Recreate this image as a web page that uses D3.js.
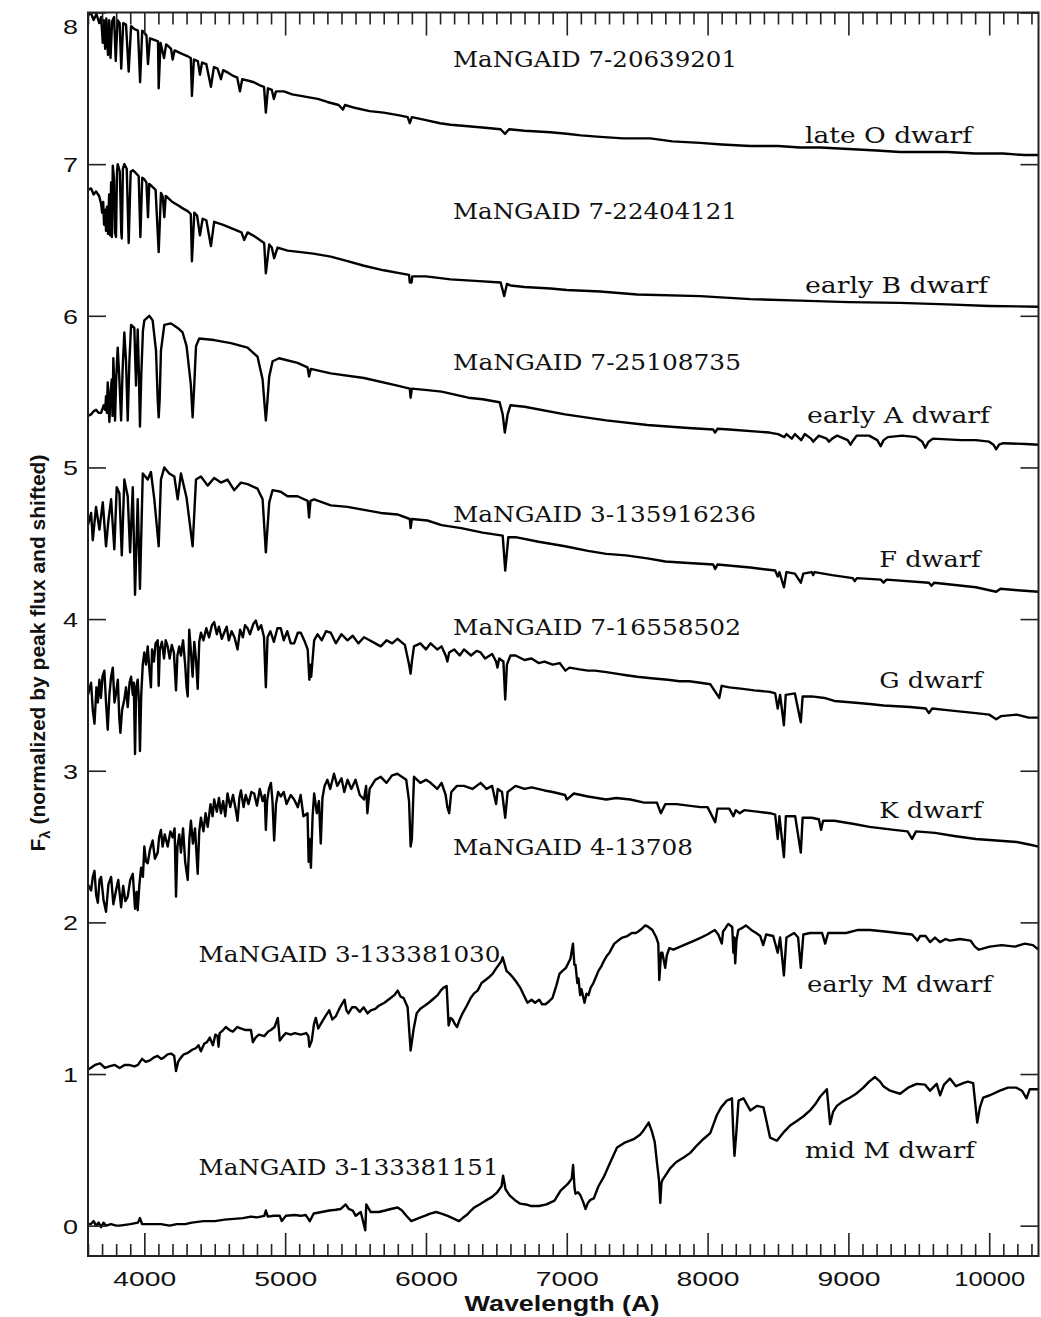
<!DOCTYPE html>
<html><head><meta charset="utf-8">
<script src="https://cdn.jsdelivr.net/npm/d3@7/dist/d3.min.js"></script>
<style>body{margin:0;background:#fff}</style>
</head><body>
<svg id="chart" width="1041" height="1317"></svg>
<script>
// ---------------- data: [wavelength (A), normalized + shifted flux] ----------------
const specLateO = [[3600,7.98],[3619,8.00],[3640,7.95],[3660,7.99],[3680,7.93],[3693,7.97],[3705,7.80],[3712,7.95],[3722,7.76],[3730,7.96],[3742,7.72],[3750,7.95],[3760,7.70],[3771,7.94],[3785,7.97],[3797,7.68],[3810,7.95],[3825,7.93],[3836,7.63],[3850,7.93],[3870,7.92],[3889,7.61],[3906,7.91],[3930,7.89],[3955,7.88],[3970,7.54],[3985,7.88],[3998,7.87],[4015,7.85],[4026,7.66],[4040,7.83],[4070,7.82],[4097,7.81],[4102,7.50],[4115,7.80],[4140,7.70],[4155,7.79],[4168,7.78],[4190,7.76],[4201,7.69],[4215,7.75],[4260,7.73],[4310,7.71],[4330,7.70],[4338,7.45],[4352,7.69],[4380,7.68],[4395,7.59],[4410,7.67],[4440,7.66],[4473,7.51],[4494,7.64],[4520,7.63],[4544,7.56],[4560,7.62],[4600,7.60],[4636,7.58],[4660,7.57],[4679,7.48],[4695,7.56],[4740,7.55],[4778,7.54],[4820,7.52],[4850,7.51],[4863,7.34],[4878,7.50],[4905,7.49],[4920,7.43],[4935,7.48],[4991,7.48],[5050,7.46],[5111,7.45],[5170,7.44],[5232,7.43],[5300,7.41],[5380,7.39],[5411,7.36],[5425,7.39],[5500,7.37],[5600,7.35],[5700,7.34],[5821,7.32],[5870,7.31],[5885,7.27],[5900,7.31],[6000,7.29],[6100,7.27],[6175,7.26],[6300,7.25],[6420,7.24],[6530,7.23],[6562,7.20],[6590,7.23],[6700,7.22],[6884,7.21],[7000,7.20],[7100,7.19],[7238,7.18],[7400,7.17],[7593,7.17],[7750,7.15],[7948,7.14],[8100,7.13],[8303,7.12],[8500,7.12],[8657,7.11],[8800,7.11],[9000,7.10],[9200,7.09],[9366,7.08],[9550,7.08],[9700,7.08],[9900,7.07],[10100,7.07],[10250,7.06],[10350,7.06]];

const specEarlyB = [[3600,6.83],[3622,6.84],[3640,6.80],[3657,6.82],[3679,6.79],[3693,6.74],[3700,6.68],[3708,6.75],[3714,6.60],[3722,6.70],[3728,6.56],[3735,6.72],[3742,6.54],[3750,6.80],[3757,6.53],[3764,6.88],[3770,6.52],[3776,6.99],[3785,6.90],[3792,6.55],[3799,6.52],[3806,6.95],[3811,7.00],[3826,6.95],[3836,6.55],[3840,6.51],[3848,6.97],[3858,7.00],[3875,6.97],[3889,6.48],[3903,6.95],[3918,6.96],[3941,6.94],[3960,6.92],[3972,6.52],[3985,6.91],[4000,6.90],[4015,6.88],[4026,6.65],[4035,6.87],[4047,6.86],[4080,6.83],[4102,6.42],[4118,6.81],[4130,6.79],[4142,6.65],[4152,6.79],[4166,6.78],[4200,6.75],[4237,6.73],[4270,6.71],[4308,6.69],[4330,6.67],[4338,6.36],[4355,6.68],[4375,6.66],[4395,6.53],[4414,6.64],[4440,6.63],[4473,6.46],[4496,6.62],[4560,6.60],[4638,6.57],[4690,6.55],[4709,6.50],[4733,6.55],[4790,6.52],[4851,6.48],[4863,6.28],[4887,6.47],[4905,6.45],[4922,6.38],[4946,6.45],[5017,6.43],[5111,6.42],[5200,6.41],[5324,6.39],[5443,6.36],[5560,6.33],[5700,6.30],[5821,6.28],[5880,6.27],[5885,6.22],[5898,6.22],[5903,6.26],[6000,6.26],[6175,6.24],[6350,6.23],[6530,6.22],[6556,6.13],[6575,6.21],[6600,6.20],[6700,6.19],[6884,6.18],[7000,6.17],[7238,6.16],[7500,6.14],[7948,6.13],[8303,6.11],[8657,6.10],[9000,6.09],[9366,6.085],[9700,6.075],[10000,6.065],[10350,6.06]];

const specEarlyA = [[3600,5.34],[3622,5.35],[3640,5.37],[3657,5.38],[3675,5.36],[3693,5.36],[3712,5.41],[3722,5.38],[3728,5.47],[3734,5.36],[3740,5.56],[3746,5.40],[3752,5.30],[3760,5.50],[3769,5.58],[3774,5.34],[3780,5.72],[3786,5.55],[3792,5.31],[3800,5.58],[3811,5.79],[3822,5.60],[3835,5.31],[3846,5.65],[3858,5.89],[3870,5.70],[3882,5.31],[3894,5.70],[3906,5.94],[3929,5.92],[3941,5.54],[3953,5.91],[3962,5.60],[3969,5.27],[3978,5.60],[3990,5.90],[4000,5.97],[4035,6.00],[4059,5.97],[4083,5.77],[4095,5.45],[4102,5.33],[4109,5.45],[4118,5.77],[4142,5.94],[4189,5.95],[4237,5.92],[4272,5.89],[4300,5.80],[4330,5.55],[4343,5.33],[4355,5.55],[4367,5.80],[4390,5.85],[4496,5.84],[4615,5.82],[4733,5.79],[4804,5.73],[4840,5.58],[4855,5.40],[4863,5.31],[4871,5.40],[4887,5.60],[4911,5.70],[4957,5.72],[5088,5.69],[5159,5.66],[5170,5.60],[5182,5.65],[5324,5.62],[5560,5.59],[5797,5.54],[5885,5.52],[5891,5.46],[5900,5.52],[6010,5.51],[6111,5.50],[6300,5.46],[6402,5.45],[6523,5.43],[6545,5.35],[6560,5.23],[6580,5.35],[6600,5.41],[6700,5.40],[6988,5.35],[7280,5.31],[7572,5.28],[7863,5.26],[8040,5.25],[8053,5.23],[8070,5.255],[8154,5.25],[8440,5.23],[8500,5.22],[8545,5.20],[8560,5.22],[8598,5.19],[8620,5.22],[8665,5.18],[8690,5.22],[8735,5.19],[8750,5.17],[8770,5.19],[8790,5.21],[8845,5.19],[8863,5.17],[8885,5.19],[8920,5.21],[8995,5.18],[9015,5.15],[9035,5.18],[9060,5.21],[9147,5.21],[9205,5.18],[9229,5.14],[9250,5.18],[9280,5.20],[9383,5.21],[9480,5.20],[9525,5.17],[9546,5.13],[9570,5.17],[9600,5.19],[9800,5.18],[9905,5.18],[10000,5.17],[10030,5.15],[10049,5.12],[10070,5.15],[10100,5.16],[10257,5.155],[10350,5.15]];

const specF = [[3600,4.62],[3622,4.70],[3634,4.52],[3657,4.74],[3681,4.59],[3705,4.77],[3728,4.48],[3745,4.65],[3764,4.79],[3787,4.46],[3804,4.87],[3823,4.83],[3840,4.42],[3858,4.92],[3882,4.81],[3899,4.44],[3918,4.87],[3934,4.16],[3953,4.79],[3969,4.20],[3989,4.96],[4024,4.92],[4047,4.97],[4071,4.79],[4102,4.48],[4118,4.92],[4142,5.00],[4177,4.96],[4213,4.94],[4237,4.79],[4260,4.96],[4300,4.80],[4343,4.48],[4367,4.92],[4402,4.94],[4450,4.88],[4496,4.93],[4544,4.90],[4591,4.92],[4638,4.85],[4686,4.90],[4733,4.89],[4804,4.86],[4840,4.79],[4863,4.44],[4887,4.77],[4911,4.85],[4969,4.84],[5017,4.81],[5088,4.81],[5160,4.78],[5170,4.67],[5180,4.78],[5206,4.79],[5324,4.75],[5443,4.74],[5560,4.72],[5679,4.70],[5797,4.69],[5885,4.66],[5891,4.60],[5900,4.66],[6010,4.65],[6111,4.62],[6250,4.60],[6402,4.57],[6545,4.55],[6563,4.32],[6585,4.54],[6636,4.54],[6800,4.51],[6988,4.48],[7150,4.45],[7281,4.43],[7420,4.42],[7572,4.40],[7700,4.38],[7863,4.37],[8040,4.36],[8054,4.33],[8070,4.36],[8303,4.34],[8480,4.32],[8498,4.28],[8510,4.31],[8542,4.21],[8560,4.31],[8620,4.30],[8662,4.24],[8680,4.30],[8739,4.31],[8750,4.29],[8760,4.31],[8884,4.29],[9031,4.27],[9045,4.25],[9060,4.27],[9230,4.26],[9250,4.24],[9270,4.26],[9572,4.24],[9590,4.22],[9610,4.24],[9905,4.21],[10050,4.18],[10080,4.20],[10200,4.19],[10350,4.18]];

const specG = [[3600,3.50],[3622,3.58],[3634,3.40],[3646,3.31],[3660,3.55],[3670,3.45],[3681,3.60],[3692,3.48],[3703,3.62],[3716,3.66],[3728,3.45],[3740,3.27],[3752,3.50],[3764,3.62],[3776,3.68],[3788,3.45],[3799,3.51],[3812,3.60],[3822,3.35],[3830,3.25],[3842,3.40],[3858,3.47],[3870,3.55],[3882,3.42],[3895,3.58],[3906,3.62],[3918,3.50],[3925,3.58],[3934,3.11],[3942,3.55],[3953,3.60],[3962,3.45],[3969,3.13],[3978,3.50],[3989,3.70],[4000,3.78],[4012,3.70],[4024,3.82],[4035,3.68],[4047,3.55],[4055,3.80],[4068,3.72],[4080,3.84],[4095,3.86],[4102,3.56],[4110,3.80],[4125,3.85],[4140,3.74],[4152,3.86],[4166,3.82],[4180,3.74],[4195,3.83],[4210,3.78],[4225,3.53],[4235,3.76],[4248,3.82],[4260,3.76],[4275,3.86],[4290,3.70],[4300,3.55],[4308,3.49],[4319,3.93],[4330,3.80],[4343,3.62],[4355,3.85],[4368,3.72],[4379,3.54],[4390,3.85],[4402,3.91],[4420,3.86],[4440,3.94],[4460,3.88],[4480,3.96],[4496,3.98],[4515,3.90],[4530,3.95],[4550,3.87],[4567,3.91],[4585,3.95],[4600,3.86],[4620,3.92],[4640,3.88],[4662,3.80],[4680,3.93],[4700,3.88],[4715,3.96],[4733,3.94],[4750,3.90],[4775,3.97],[4792,3.99],[4810,3.93],[4830,3.96],[4850,3.88],[4863,3.55],[4875,3.88],[4895,3.92],[4920,3.85],[4945,3.94],[4969,3.94],[4990,3.86],[5015,3.92],[5040,3.84],[5064,3.84],[5090,3.91],[5111,3.91],[5140,3.85],[5160,3.80],[5172,3.60],[5177,3.70],[5185,3.62],[5206,3.86],[5230,3.90],[5260,3.86],[5290,3.92],[5324,3.91],[5360,3.84],[5400,3.90],[5443,3.86],[5480,3.89],[5520,3.84],[5560,3.88],[5600,3.86],[5640,3.84],[5679,3.82],[5720,3.86],[5760,3.84],[5797,3.87],[5850,3.83],[5880,3.70],[5891,3.64],[5900,3.72],[5915,3.82],[5960,3.84],[6000,3.80],[6033,3.84],[6080,3.80],[6111,3.82],[6140,3.76],[6152,3.72],[6165,3.78],[6200,3.80],[6240,3.76],[6270,3.80],[6320,3.76],[6360,3.79],[6388,3.78],[6420,3.74],[6470,3.77],[6498,3.72],[6508,3.68],[6520,3.74],[6550,3.72],[6563,3.47],[6575,3.70],[6600,3.76],[6636,3.76],[6700,3.73],[6750,3.74],[6800,3.71],[6842,3.72],[6900,3.70],[6950,3.71],[6990,3.66],[7019,3.68],[7080,3.67],[7150,3.66],[7200,3.66],[7281,3.65],[7350,3.64],[7423,3.63],[7500,3.62],[7600,3.61],[7718,3.60],[7800,3.59],[7870,3.59],[7948,3.58],[8020,3.57],[8083,3.48],[8100,3.56],[8154,3.55],[8250,3.54],[8330,3.53],[8444,3.52],[8480,3.51],[8498,3.41],[8515,3.50],[8542,3.30],[8555,3.50],[8620,3.51],[8662,3.32],[8675,3.49],[8739,3.49],[8830,3.48],[8900,3.46],[9031,3.45],[9150,3.44],[9250,3.43],[9438,3.42],[9550,3.41],[9572,3.38],[9595,3.41],[9700,3.40],[9905,3.38],[10000,3.37],[10050,3.34],[10083,3.36],[10196,3.37],[10280,3.35],[10350,3.35]];

const specK = [[3600,2.25],[3622,2.21],[3634,2.30],[3646,2.34],[3658,2.18],[3670,2.13],[3682,2.28],[3693,2.30],[3710,2.15],[3728,2.07],[3745,2.25],[3764,2.30],[3780,2.12],[3799,2.21],[3815,2.28],[3835,2.10],[3850,2.24],[3865,2.14],[3882,2.17],[3900,2.28],[3918,2.32],[3934,2.09],[3945,2.20],[3953,2.08],[3965,2.25],[3977,2.36],[3990,2.30],[4000,2.50],[4012,2.40],[4024,2.39],[4040,2.48],[4059,2.54],[4075,2.42],[4095,2.46],[4105,2.56],[4118,2.61],[4130,2.50],[4145,2.58],[4166,2.50],[4185,2.60],[4201,2.56],[4215,2.62],[4225,2.17],[4235,2.50],[4248,2.58],[4260,2.46],[4275,2.62],[4290,2.40],[4308,2.28],[4320,2.55],[4331,2.67],[4345,2.52],[4360,2.62],[4379,2.32],[4390,2.60],[4402,2.69],[4420,2.60],[4435,2.72],[4450,2.63],[4470,2.78],[4485,2.70],[4496,2.81],[4515,2.73],[4530,2.82],[4544,2.72],[4560,2.80],[4575,2.70],[4591,2.85],[4610,2.76],[4630,2.84],[4650,2.74],[4662,2.67],[4675,2.82],[4686,2.87],[4705,2.76],[4720,2.84],[4740,2.78],[4760,2.86],[4780,2.85],[4800,2.77],[4820,2.88],[4840,2.80],[4855,2.84],[4863,2.61],[4872,2.80],[4885,2.88],[4899,2.92],[4910,2.80],[4922,2.54],[4935,2.78],[4950,2.86],[4969,2.83],[4990,2.86],[5010,2.78],[5040,2.84],[5064,2.81],[5090,2.76],[5110,2.84],[5130,2.70],[5159,2.72],[5167,2.40],[5173,2.55],[5183,2.36],[5195,2.70],[5206,2.85],[5225,2.72],[5240,2.80],[5253,2.52],[5265,2.82],[5280,2.90],[5300,2.94],[5320,2.88],[5347,2.98],[5370,2.90],[5400,2.95],[5420,2.86],[5443,2.94],[5470,2.88],[5500,2.94],[5530,2.84],[5560,2.81],[5575,2.90],[5584,2.72],[5600,2.88],[5640,2.94],[5679,2.96],[5720,2.92],[5760,2.97],[5797,2.98],[5860,2.94],[5880,2.80],[5891,2.50],[5900,2.55],[5915,2.96],[5960,2.92],[6000,2.94],[6033,2.92],[6080,2.88],[6111,2.92],[6140,2.84],[6152,2.76],[6165,2.72],[6180,2.86],[6220,2.90],[6270,2.90],[6330,2.88],[6388,2.92],[6430,2.88],[6470,2.90],[6498,2.78],[6510,2.88],[6540,2.86],[6563,2.69],[6580,2.86],[6636,2.90],[6700,2.88],[6750,2.89],[6842,2.87],[6900,2.86],[6988,2.84],[7000,2.81],[7050,2.85],[7150,2.83],[7281,2.81],[7350,2.82],[7452,2.81],[7550,2.79],[7640,2.79],[7668,2.72],[7700,2.78],[7780,2.78],[7863,2.77],[7950,2.76],[8000,2.76],[8054,2.66],[8070,2.75],[8154,2.75],[8183,2.70],[8200,2.74],[8228,2.72],[8260,2.74],[8350,2.73],[8444,2.72],[8480,2.71],[8498,2.55],[8510,2.70],[8542,2.43],[8556,2.70],[8622,2.70],[8662,2.46],[8675,2.69],[8739,2.69],[8790,2.68],[8806,2.61],[8820,2.67],[8900,2.67],[9031,2.65],[9150,2.63],[9324,2.61],[9420,2.60],[9452,2.55],[9480,2.60],[9615,2.59],[9750,2.57],[9905,2.55],[10050,2.54],[10196,2.53],[10300,2.51],[10350,2.50]];

const specEarlyM = [[3600,1.03],[3619,1.04],[3650,1.06],[3686,1.07],[3720,1.04],[3750,1.05],[3790,1.06],[3825,1.04],[3860,1.06],[3891,1.06],[3930,1.05],[3955,1.06],[3984,1.10],[4010,1.08],[4040,1.09],[4070,1.11],[4094,1.12],[4120,1.10],[4140,1.11],[4165,1.13],[4189,1.135],[4212,1.12],[4225,1.02],[4240,1.08],[4253,1.10],[4280,1.13],[4310,1.14],[4340,1.16],[4365,1.17],[4385,1.19],[4402,1.15],[4425,1.20],[4445,1.21],[4465,1.24],[4487,1.19],[4505,1.26],[4520,1.25],[4527,1.18],[4535,1.27],[4560,1.29],[4579,1.31],[4605,1.29],[4629,1.28],[4660,1.31],[4689,1.30],[4720,1.29],[4757,1.29],[4771,1.21],[4790,1.24],[4813,1.26],[4852,1.25],[4880,1.28],[4899,1.29],[4925,1.31],[4948,1.37],[4962,1.22],[4985,1.25],[5005,1.27],[5040,1.26],[5069,1.27],[5111,1.26],[5150,1.27],[5165,1.25],[5172,1.18],[5189,1.22],[5205,1.33],[5218,1.37],[5235,1.30],[5253,1.33],[5285,1.38],[5313,1.42],[5335,1.36],[5359,1.38],[5390,1.44],[5422,1.49],[5435,1.42],[5449,1.40],[5475,1.44],[5501,1.44],[5530,1.41],[5558,1.44],[5585,1.40],[5608,1.42],[5640,1.43],[5665,1.45],[5705,1.47],[5747,1.50],[5775,1.52],[5799,1.55],[5820,1.51],[5842,1.50],[5870,1.44],[5891,1.155],[5913,1.30],[5934,1.40],[5960,1.43],[5991,1.45],[6020,1.47],[6045,1.49],[6083,1.52],[6105,1.55],[6125,1.57],[6147,1.58],[6161,1.32],[6175,1.37],[6189,1.36],[6205,1.33],[6221,1.31],[6240,1.36],[6260,1.40],[6290,1.45],[6317,1.50],[6340,1.53],[6367,1.55],[6395,1.60],[6423,1.62],[6450,1.64],[6473,1.66],[6501,1.70],[6533,1.74],[6545,1.77],[6560,1.72],[6572,1.68],[6595,1.66],[6615,1.64],[6640,1.61],[6669,1.57],[6695,1.52],[6721,1.47],[6750,1.49],[6775,1.47],[6804,1.49],[6825,1.46],[6849,1.46],[6875,1.48],[6898,1.50],[6925,1.58],[6948,1.66],[6970,1.68],[6994,1.70],[7026,1.76],[7044,1.86],[7054,1.72],[7062,1.72],[7075,1.60],[7083,1.63],[7095,1.52],[7104,1.56],[7126,1.47],[7140,1.53],[7154,1.52],[7170,1.57],[7189,1.60],[7207,1.64],[7225,1.68],[7245,1.71],[7266,1.75],[7285,1.78],[7303,1.80],[7320,1.83],[7338,1.86],[7365,1.88],[7395,1.90],[7430,1.91],[7462,1.93],[7490,1.93],[7508,1.94],[7535,1.96],[7558,1.98],[7580,1.97],[7608,1.95],[7636,1.90],[7650,1.86],[7657,1.62],[7670,1.80],[7679,1.80],[7699,1.70],[7710,1.78],[7728,1.83],[7757,1.82],[7806,1.84],[7856,1.86],[7906,1.88],[7953,1.90],[7998,1.92],[8051,1.95],[8076,1.92],[8101,1.86],[8110,1.94],[8126,1.96],[8147,1.99],[8175,1.97],[8183,1.80],[8190,1.90],[8196,1.73],[8205,1.88],[8218,1.95],[8240,1.96],[8272,1.98],[8310,1.95],[8345,1.93],[8374,1.91],[8395,1.85],[8416,1.92],[8466,1.91],[8498,1.80],[8515,1.90],[8542,1.65],[8560,1.90],[8615,1.93],[8643,1.90],[8662,1.70],[8680,1.92],[8728,1.93],[8813,1.93],[8835,1.86],[8856,1.93],[8984,1.93],[9069,1.95],[9154,1.95],[9260,1.94],[9352,1.93],[9452,1.92],[9490,1.88],[9509,1.91],[9548,1.91],[9580,1.87],[9615,1.90],[9651,1.87],[9690,1.89],[9721,1.88],[9792,1.89],[9867,1.88],[9898,1.84],[9927,1.82],[10005,1.84],[10088,1.85],[10182,1.84],[10253,1.86],[10310,1.85],[10350,1.82]];

const specMidM = [[3600,0.01],[3619,0.01],[3640,0.03],[3657,0.00],[3675,0.02],[3693,-0.01],[3710,0.02],[3728,0.00],[3764,0.01],[3800,0.00],[3825,0.00],[3900,0.01],[3955,0.02],[3969,0.05],[3984,0.01],[4050,0.01],[4118,0.01],[4180,0.00],[4229,0.01],[4290,0.01],[4338,0.02],[4420,0.03],[4501,0.03],[4570,0.04],[4636,0.045],[4700,0.05],[4757,0.06],[4800,0.055],[4852,0.065],[4863,0.10],[4877,0.06],[4920,0.065],[4962,0.065],[4976,0.03],[5005,0.065],[5069,0.07],[5110,0.065],[5147,0.07],[5175,0.03],[5203,0.08],[5260,0.09],[5313,0.10],[5360,0.105],[5395,0.11],[5430,0.14],[5452,0.11],[5480,0.10],[5501,0.065],[5537,0.09],[5569,-0.03],[5576,0.14],[5608,0.09],[5665,0.09],[5710,0.10],[5750,0.11],[5799,0.12],[5830,0.10],[5856,0.07],[5896,0.03],[5948,0.05],[5991,0.065],[6030,0.08],[6072,0.09],[6110,0.08],[6154,0.065],[6189,0.05],[6235,0.03],[6260,0.05],[6289,0.07],[6320,0.10],[6343,0.12],[6380,0.14],[6423,0.165],[6470,0.19],[6506,0.22],[6537,0.26],[6548,0.33],[6565,0.24],[6594,0.20],[6630,0.17],[6669,0.145],[6710,0.14],[6743,0.13],[6804,0.13],[6856,0.14],[6913,0.165],[6955,0.23],[6990,0.26],[7012,0.28],[7035,0.31],[7045,0.40],[7055,0.25],[7062,0.21],[7080,0.22],[7097,0.20],[7115,0.16],[7133,0.11],[7150,0.15],[7168,0.17],[7192,0.18],[7225,0.26],[7262,0.32],[7310,0.42],[7357,0.515],[7416,0.55],[7475,0.57],[7520,0.60],[7546,0.63],[7582,0.68],[7605,0.62],[7625,0.55],[7641,0.41],[7655,0.30],[7664,0.15],[7672,0.28],[7679,0.30],[7700,0.33],[7735,0.38],[7778,0.42],[7830,0.45],[7877,0.48],[7925,0.53],[7969,0.57],[8019,0.61],[8066,0.73],[8096,0.78],[8137,0.825],[8173,0.84],[8183,0.60],[8191,0.46],[8203,0.60],[8220,0.825],[8255,0.84],[8303,0.76],[8352,0.79],[8397,0.78],[8416,0.70],[8444,0.58],[8492,0.56],[8539,0.615],[8586,0.66],[8634,0.69],[8679,0.72],[8728,0.76],[8764,0.80],[8799,0.85],[8847,0.90],[8870,0.67],[8891,0.75],[8918,0.79],[8962,0.82],[9012,0.845],[9055,0.87],[9106,0.91],[9147,0.95],[9189,0.98],[9225,0.95],[9248,0.92],[9296,0.89],[9367,0.87],[9424,0.91],[9485,0.935],[9544,0.93],[9580,0.89],[9627,0.935],[9651,0.86],[9679,0.93],[9721,0.97],[9764,0.92],[9815,0.94],[9848,0.95],[9886,0.94],[9915,0.68],[9934,0.78],[9957,0.845],[10005,0.86],[10076,0.89],[10133,0.91],[10194,0.91],[10232,0.89],[10265,0.84],[10288,0.90],[10350,0.90]];

const spectra = [specLateO, specEarlyB, specEarlyA, specF, specG, specK, specEarlyM, specMidM];

// annotation text
const idLabels = ["MaNGAID 7-20639201","MaNGAID 7-22404121","MaNGAID 7-25108735","MaNGAID 3-135916236","MaNGAID 7-16558502","MaNGAID 4-13708","MaNGAID 3-133381030","MaNGAID 3-133381151"];
const typeLabels = ["late O dwarf","early B dwarf","early A dwarf","F dwarf","G dwarf","K dwarf","early M dwarf","mid M dwarf"];

// axis ticks
const xMajorTicks = [4000,5000,6000,7000,8000,9000,10000];
const yTicks = [0,1,2,3,4,5,6,7,8];
const xTitle = "Wavelength (A)";
const yTitleMain = "F";
const yTitleSub = "λ";
const yTitleRest = " (normalized by peak flux and shifted)";

// ---------------- layout ----------------
// label anchors in data coordinates [wavelength, flux] and rendered widths (px)
const idLayout = [[6192,7.643,284],[6192,6.636,284],[6192,5.643,288],[6192,4.642,303],[6192,3.895,288],[6192,2.444,240],[4385,1.741,302],[4385,0.334,300]];
const typeLayout = [[8692,7.139,167],[8692,6.150,183],[8706,5.293,183],[9220,4.346,101],[9220,3.546,103],[9220,2.688,103],[8706,1.543,185],[8692,0.446,170]];

const W = 1041, H = 1317;
const P = {left: 88, right: 1038.5, top: 12.5, bottom: 1256};
const x = d3.scaleLinear().domain([3600, 10350]).range([P.left, P.right]);
const y = d3.scaleLinear().domain([-0.2, 8]).range([P.bottom, P.top]);

const svg = d3.select('#chart');
svg.append('rect').attr('width', W).attr('height', H).attr('fill', '#fff');
svg.append('defs').append('clipPath').attr('id', 'plotclip')
  .append('rect').attr('x', P.left).attr('y', P.top)
  .attr('width', P.right - P.left).attr('height', P.bottom - P.top);

// spectra
const line = d3.line().x(d => x(d[0])).y(d => y(d[1]));
svg.append('g').attr('clip-path', 'url(#plotclip)')
  .selectAll('path').data(spectra).join('path')
  .attr('d', line).attr('fill', 'none').attr('stroke', '#000')
  .attr('stroke-width', 2.4).attr('stroke-linejoin', 'round');

// axes
const axStroke = '#222';
function styleAxis(g) {
  g.select('.domain').remove();
  g.selectAll('.tick line').attr('stroke', axStroke).attr('stroke-width', 1.6);
}
const minorX = d3.range(3600, 10351, 100).filter(v => v % 1000 !== 0);
// bottom
svg.append('g').attr('transform', `translate(0,${P.bottom})`)
  .call(d3.axisBottom(x).tickValues(minorX).tickSize(-12).tickFormat('')).call(styleAxis);
const bottomMajor = svg.append('g').attr('transform', `translate(0,${P.bottom})`)
  .call(d3.axisBottom(x).tickValues(xMajorTicks).tickSize(-23).tickPadding(10).tickFormat(d3.format('d'))).call(styleAxis);
bottomMajor.selectAll('.tick text')
  .attr('font-family', '"Liberation Sans", Arial, Helvetica, sans-serif')
  .attr('font-size', 20.5).attr('fill', '#111')
  .attr('y', 30).attr('dy', 0)
  .attr('textLength', d => d >= 10000 ? 71 : 63)
  .attr('lengthAdjust', 'spacingAndGlyphs');
// top
svg.append('g').attr('transform', `translate(0,${P.top})`)
  .call(d3.axisTop(x).tickValues(minorX).tickSize(-12).tickFormat('')).call(styleAxis);
svg.append('g').attr('transform', `translate(0,${P.top})`)
  .call(d3.axisTop(x).tickValues(xMajorTicks).tickSize(-23).tickFormat('')).call(styleAxis);
// left
const leftAxis = svg.append('g').attr('transform', `translate(${P.left},0)`)
  .call(d3.axisLeft(y).tickValues(yTicks).tickSize(-18).tickPadding(10).tickFormat(d3.format('d'))).call(styleAxis);
leftAxis.selectAll('.tick text')
  .attr('font-family', '"Liberation Sans", Arial, Helvetica, sans-serif')
  .attr('font-size', 21).attr('fill', '#111')
  .attr('textLength', 15).attr('lengthAdjust', 'spacingAndGlyphs')
  .attr('dy', d => d === 8 ? '1.0em' : '0.35em');
// right
svg.append('g').attr('transform', `translate(${P.right},0)`)
  .call(d3.axisRight(y).tickValues(yTicks).tickSize(-18).tickFormat('')).call(styleAxis);

// frame
svg.append('rect').attr('x', P.left).attr('y', P.top)
  .attr('width', P.right - P.left).attr('height', P.bottom - P.top)
  .attr('fill', 'none').attr('stroke', axStroke).attr('stroke-width', 2);

// annotations
const serif = '"DejaVu Serif", "Liberation Serif", serif';
svg.append('g').selectAll('text').data(idLabels).join('text')
  .attr('x', (d, i) => x(idLayout[i][0])).attr('y', (d, i) => y(idLayout[i][1]))
  .attr('textLength', (d, i) => idLayout[i][2]).attr('lengthAdjust', 'spacingAndGlyphs')
  .attr('font-family', serif).attr('font-size', 23).attr('fill', '#111').text(d => d);
svg.append('g').selectAll('text').data(typeLabels).join('text')
  .attr('x', (d, i) => x(typeLayout[i][0])).attr('y', (d, i) => y(typeLayout[i][1]))
  .attr('textLength', (d, i) => typeLayout[i][2]).attr('lengthAdjust', 'spacingAndGlyphs')
  .attr('font-family', serif).attr('font-size', 23).attr('fill', '#111').text(d => d);

// axis titles
svg.append('text').attr('x', 562).attr('y', 1311).attr('text-anchor', 'middle')
  .attr('font-family', '"Liberation Sans", Arial, Helvetica, sans-serif')
  .attr('font-weight', 'bold').attr('font-size', 22).attr('fill', '#111')
  .attr('textLength', 195).attr('lengthAdjust', 'spacingAndGlyphs').text(xTitle);

const yt = svg.append('text').attr('transform', 'translate(45,653) rotate(-90)')
  .attr('text-anchor', 'middle')
  .attr('font-family', '"Liberation Sans", Arial, Helvetica, sans-serif')
  .attr('font-weight', 'bold').attr('font-size', 21).attr('fill', '#111');
yt.append('tspan').text(yTitleMain);
yt.append('tspan').attr('font-size', 15).attr('dy', 5).text(yTitleSub);
yt.append('tspan').attr('dy', -5).text(yTitleRest);
</script>
</body></html>
